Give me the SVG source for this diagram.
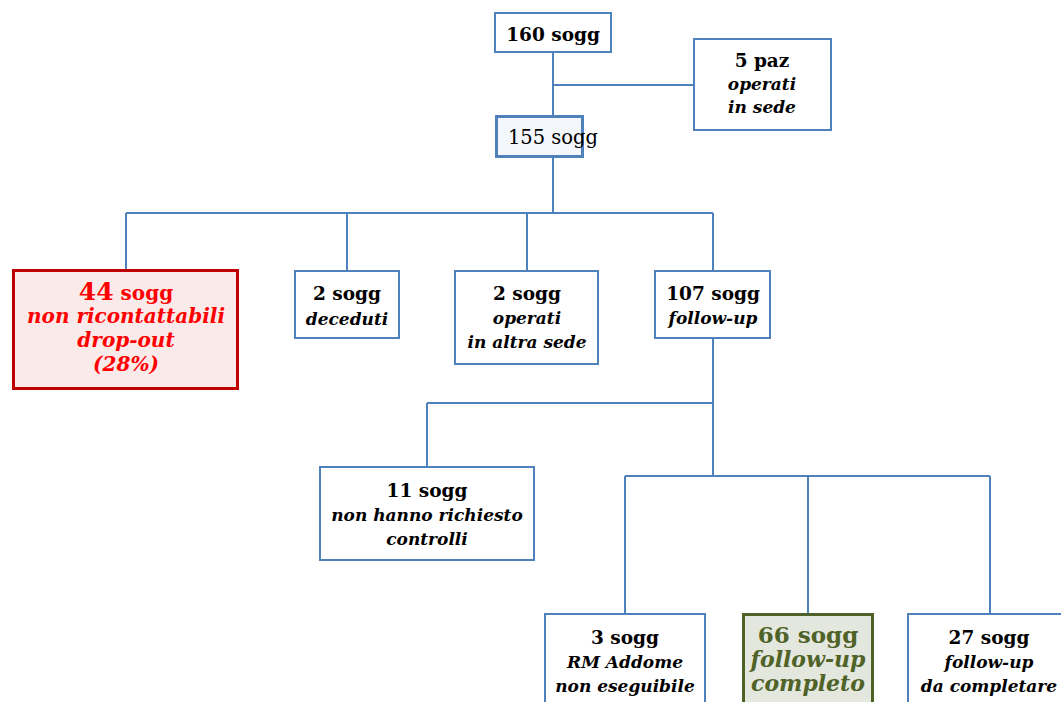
<svg xmlns="http://www.w3.org/2000/svg" width="1061" height="702" viewBox="0 0 1061 702">
<style>
.box{fill:#FFFFFF;stroke:#4F81BD;stroke-width:2}
.conn{fill:none;stroke:#4F81BD;stroke-width:2}
text{font-family:"DejaVu Serif","Liberation Serif",serif;text-anchor:middle;fill:#000000}
.b{font-weight:bold;font-size:18.5px}
.i{font-style:italic;font-weight:bold;font-size:17px}
.r{font-size:19.5px}
.red{fill:#FF0000}
.red.i{font-size:20px}
.red.b{font-size:20px}
.big{font-size:25px}
.grn{fill:#4F6228}
.grn.b{font-size:23px}
.grn.i{font-size:22px}
</style>
<rect width="1061" height="702" fill="#FFFFFF"/>
<g id="connectors">
<path class="conn" d="M553,52 V116 M553,85 H694 M553,157 V213 M126,213 H713 M126,213 V270 M347,213 V271 M527,213 V271 M713,213 V271 M713,338 V476 M427,403 H713 M427,403 V467 M625,476 H990 M625,476 V614 M808,476 V614 M990,476 V614"/>
</g>
<g id="n160">
<rect class="box" x="495" y="13" width="116" height="39"/>
<text class="b" x="553" y="41">160 sogg</text>
</g>
<g id="n5paz">
<rect class="box" x="694" y="39" width="137" height="91"/>
<text class="b" x="762" y="67">5 paz</text>
<text class="i" x="762" y="90">operati</text>
<text class="i" x="762" y="113">in sede</text>
</g>
<g id="n155">
<rect x="496.5" y="116.5" width="86" height="40" fill="#F3F6FB" stroke="#4F81BD" stroke-width="3"/>
<text class="r" x="553" y="144">155 sogg</text>
</g>
<g id="n44">
<rect x="13.5" y="270.5" width="224" height="118" fill="#FBEAEA" stroke="#C00000" stroke-width="3"/>
<text class="b red" x="126" y="300"><tspan class="big">44</tspan> sogg</text>
<text class="i red" x="126" y="323">non ricontattabili</text>
<text class="i red" x="126" y="347">drop-out</text>
<text class="i red" x="126" y="371">(28%)</text>
</g>
<g id="n2dec">
<rect class="box" x="295" y="271" width="104" height="67"/>
<text class="b" x="347" y="300">2 sogg</text>
<text class="i" x="347" y="325">deceduti</text>
</g>
<g id="n2op">
<rect class="box" x="455" y="271" width="143" height="93"/>
<text class="b" x="527" y="300">2 sogg</text>
<text class="i" x="527" y="324">operati</text>
<text class="i" x="527" y="348">in altra sede</text>
</g>
<g id="n107">
<rect class="box" x="655" y="271" width="115" height="67"/>
<text class="b" x="713" y="300">107 sogg</text>
<text class="i" x="713" y="324">follow-up</text>
</g>
<g id="n11">
<rect class="box" x="320" y="467" width="214" height="93"/>
<text class="b" x="427" y="497">11 sogg</text>
<text class="i" x="427" y="521">non hanno richiesto</text>
<text class="i" x="427" y="545">controlli</text>
</g>
<g id="n3">
<rect class="box" x="545" y="614" width="160" height="100"/>
<text class="b" x="625" y="644">3 sogg</text>
<text class="i" x="625" y="668">RM Addome</text>
<text class="i" x="625" y="692">non eseguibile</text>
</g>
<g id="n66">
<rect x="743.5" y="614.5" width="129" height="100" fill="#E4E7DE" stroke="#4F6228" stroke-width="3"/>
<text class="b grn" x="808" y="643">66 sogg</text>
<text class="i grn" x="808" y="667">follow-up</text>
<text class="i grn" x="808" y="691">completo</text>
</g>
<g id="n27">
<rect class="box" x="908" y="614" width="160" height="100"/>
<text class="b" x="989" y="644">27 sogg</text>
<text class="i" x="989" y="668">follow-up</text>
<text class="i" x="989" y="692">da completare</text>
</g>
</svg>
